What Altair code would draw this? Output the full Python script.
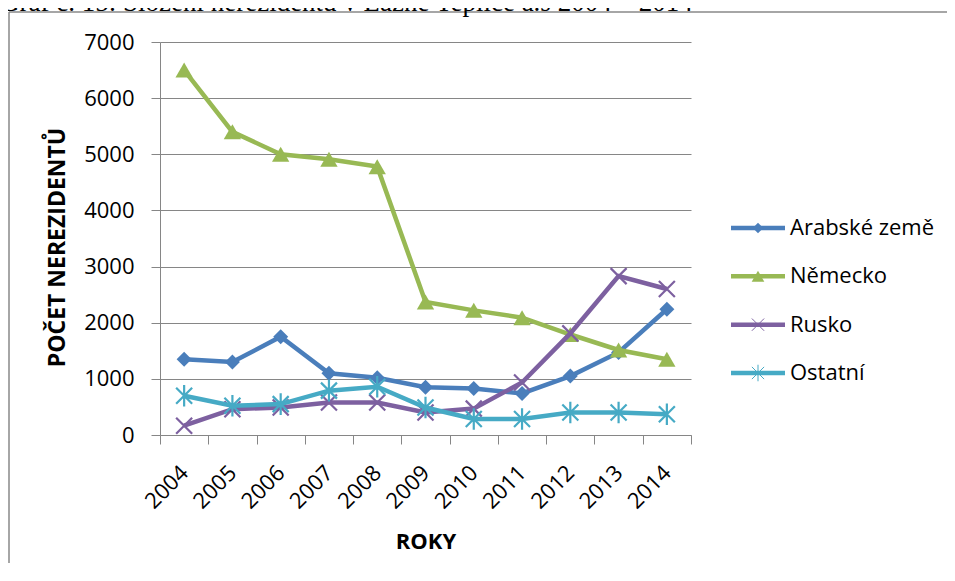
import altair as alt
import pandas as pd

years = ["2004", "2005", "2006", "2007", "2008", "2009", "2010", "2011", "2012", "2013", "2014"]
series = ["Arabské země", "Německo", "Rusko", "Ostatní"]
arabske = [1350, 1300, 1750, 1100, 1020, 850, 830, 740, 1050, 1470, 2240]
nemecko = [6500, 5400, 5000, 4910, 4780, 2370, 2220, 2090, 1790, 1515, 1350]
rusko = [165, 460, 490, 580, 580, 400, 470, 935, 1810, 2830, 2600]
ostatni = [700, 520, 550, 790, 860, 490, 285, 285, 400, 400, 370]
colors = ["#4A7EBB", "#98B954", "#7D60A0", "#46AAC5"]
y_ticks = [0, 1000, 2000, 3000, 4000, 5000, 6000, 7000]
caption = "Graf č. 15: Složení nerezidentů v Lázně Teplice a.s 2004 – 2014"

rows = []
for name, vals in zip(series, [arabske, nemecko, rusko, ostatni]):
    for yr, v in zip(years, vals):
        rows.append({"rok": yr, "serie": name, "pocet": v})
df = pd.DataFrame(rows)
leg = pd.DataFrame({"serie": series})
one = pd.DataFrame({"a": [0]})

FONT = "Open Sans"
GRID = "#868686"

color = alt.Color("serie:N", scale=alt.Scale(domain=series, range=colors), legend=None)

x_enc = alt.X(
    "rok:O",
    sort=years,
    bandPosition=0.5,
    scale=alt.Scale(type="band", domain=years, paddingInner=0, paddingOuter=0),
    axis=alt.Axis(
        title="ROKY", tickBand="extent", tickExtra=True, labelAngle=-45,
        labelAlign="right", labelBaseline="middle", labelPadding=25,
        tickSize=9, tickColor=GRID, domainColor=GRID, grid=False,
        labelFont=FONT, labelFontSize=22, labelColor="#000",
        titleFont=FONT, titleFontSize=22, titleFontWeight="bold", titleColor="#000",
        titleY=106, titleBaseline="middle",
    ),
)
y_enc = alt.Y(
    "pocet:Q",
    scale=alt.Scale(domain=[0, 7000], nice=False, zero=True),
    axis=alt.Axis(
        values=y_ticks, format="d", title="POČET NEREZIDENTŮ", grid=True, gridColor=GRID,
        gridWidth=1, tickColor=GRID, tickSize=9, domainColor=GRID,
        labelPadding=17, labelFont=FONT, labelFontSize=22, labelColor="#000",
        titleFont=FONT, titleFontSize=23, titleFontWeight="bold", titleColor="#000",
        titleX=-103, titleY=205, titleAngle=270, titleAlign="center",
        titleBaseline="middle",
    ),
)

base = alt.Chart(df)
X_PATH = "M-1,-1L1,1M-1,1L1,-1"
AST_PATH = "M-1,-1L1,1M-1,1L1,-1M0,-1.35L0,1.35"
marker_specs = {
    "Arabské země": dict(shape="diamond", filled=True, size=225),
    "Německo": dict(shape="triangle-up", filled=True, size=300),
    "Rusko": dict(shape=X_PATH, filled=False, size=256, strokeWidth=2.2),
    "Ostatní": dict(shape=AST_PATH, filled=False, size=256, strokeWidth=2.2),
}
legend_marker_specs = {
    "Arabské země": dict(shape="diamond", filled=True, size=110),
    "Německo": dict(shape="triangle-up", filled=True, size=160),
    "Rusko": dict(shape=X_PATH, filled=False, size=150, strokeWidth=1),
    "Ostatní": dict(shape=AST_PATH, filled=False, size=150, strokeWidth=1),
}

main_layers = []
for name in series:
    sub = base.transform_filter(alt.datum.serie == name)
    main_layers.append(
        sub.mark_line(strokeWidth=4.5).encode(x=x_enc, y=y_enc, color=color)
    )
    main_layers.append(
        sub.mark_point(opacity=1, **marker_specs[name]).encode(x=x_enc, y=y_enc, color=color)
    )
main = alt.layer(*main_layers)

ly = alt.Y(
    "serie:N",
    scale=alt.Scale(type="point", domain=series, range=[186, 331], padding=0),
    axis=None,
)
lbase = alt.Chart(leg)
frame = alt.Chart(one).mark_rule(stroke="#888888", strokeWidth=1.5)
legend_layers = [
    frame.encode(x=alt.value(-151), x2=alt.value(787), y=alt.value(-30)),
    frame.encode(x=alt.value(-151), y=alt.value(-30), y2=alt.value(521)),
    alt.Chart(one).mark_text(
        align="left", baseline="alphabetic", font="Liberation Serif", fontSize=27, color="#000"
    ).encode(x=alt.value(-160), y=alt.value(-31), text=alt.value(caption)),
    lbase.mark_rule(strokeWidth=4.5).encode(
        x=alt.value(571), x2=alt.value(625), y=ly, color=color
    ),
]
for name in series:
    legend_layers.append(
        lbase.transform_filter(alt.datum.serie == name)
        .mark_point(opacity=1, **legend_marker_specs[name])
        .encode(x=alt.value(598), y=ly, color=color)
    )
legend_layers.append(
    lbase.mark_text(align="left", baseline="middle", font=FONT, fontSize=22, color="#000").encode(
        x=alt.value(630), y=ly, text="serie:N"
    )
)
legend = alt.layer(*legend_layers)

chart = (
    alt.layer(legend, main)
    .resolve_scale(y="independent")
    .properties(
        width=531,
        height=393,
        padding={"left": 152, "top": 34, "right": 256, "bottom": 128},
        autosize=alt.AutoSizeParams(type="none"),
        background="white",
    )
    .configure_view(stroke=None)
)

chart.save("out.html", embed_options={"renderer": "svg", "actions": False})
